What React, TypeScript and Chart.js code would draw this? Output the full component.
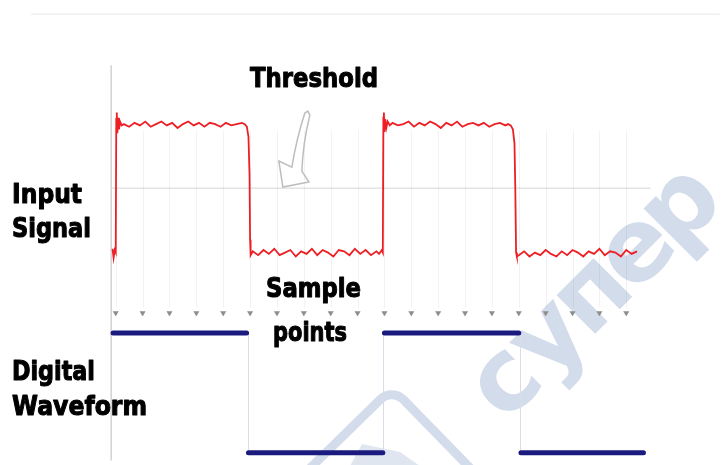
import React, { useEffect, useRef } from 'react';
import { Chart, registerables } from 'chart.js';

Chart.register(...registerables);

// ---- Data (time in sample periods, signal in normalized volts) ----
const signalTimes = [
  -0.12, -0.08, -0.04, 0, 0.02, 0.04, 0.06, 0.09, 0.12, 0.16, 0.22,
  0.3, 0.5, 0.7, 0.9, 1.1, 1.3, 1.5, 1.7, 1.9, 2.1, 2.3, 2.5, 2.7, 2.9, 3.1, 3.3, 3.5, 3.7, 3.9, 4.1, 4.3, 4.5, 4.7,
  4.8, 4.88, 4.94, 4.98, 5.0, 5.02,
  5.1, 5.3, 5.5, 5.7, 5.9, 6.1, 6.3, 6.5, 6.7, 6.9, 7.1, 7.3, 7.5, 7.7, 7.9, 8.1, 8.3, 8.5, 8.7, 8.9, 9.1, 9.3, 9.5, 9.7,
  9.8, 9.9, 9.94,
  9.96, 9.98, 10.0, 10.03, 10.07, 10.12, 10.2,
  10.3, 10.5, 10.7, 10.9, 11.1, 11.3, 11.5, 11.7, 11.9, 12.1, 12.3, 12.5, 12.7, 12.9, 13.1, 13.3, 13.5, 13.7, 13.9, 14.1, 14.3, 14.5,
  14.6, 14.7, 14.78, 14.84, 14.87, 14.9, 14.93,
  15.0, 15.2, 15.4, 15.6, 15.8, 16.0, 16.2, 16.4, 16.6, 16.8, 17.0, 17.2, 17.4, 17.6, 17.8, 18.0, 18.2, 18.4, 18.6, 18.8, 19.0, 19.2, 19.4,
];
const signalValues = [
  0.03, -0.04, 0.02, 0.0, 1.04, 1.09, 0.93, 1.05, 0.96, 1.02, 0.99,
  1.0, 0.98, 1.01, 0.99, 1.02, 0.98, 1.0, 1.02, 0.99, 1.01, 0.97, 1.0, 1.02, 0.99, 1.01, 0.98, 1.01, 1.0, 0.98, 1.01, 0.99, 1.0, 1.01,
  1.0, 0.98, 0.9, 0.6, 0.1, -0.02,
  0.01, -0.02, 0.02, -0.01, 0.03, -0.02, 0.0, 0.02, -0.03, 0.01, -0.01, 0.03, -0.02, 0.02, 0.0, -0.03, 0.02, 0.01, -0.02, 0.03, -0.01, 0.02, -0.02, 0.01,
  -0.01, 0.02, 0.0,
  1.05, 1.09, 0.94, 1.04, 0.97, 1.02, 0.99,
  1.01, 0.99, 1.0, 1.02, 0.98, 1.01, 0.99, 1.02, 1.0, 0.97, 1.01, 0.99, 1.02, 0.98, 1.0, 1.01, 0.99, 1.01, 0.98, 1.0, 1.01, 0.99,
  1.0, 0.99, 0.96, 0.85, 0.5, 0.0, -0.03,
  -0.02, 0.01, -0.03, 0.0, -0.02, 0.02, -0.01, -0.03, 0.01, -0.02, 0.02, 0.0, -0.03, 0.01, -0.01, 0.03, -0.02, 0.01, 0.0, -0.03, 0.02, -0.01, 0.01,
];

const digitalTimes = [-0.1, 4.87, 4.9, 4.94, 9.94, 9.97, 10.0, 15.0, 15.04, 15.08, 19.64];
const digitalLevels = [1, 1, null, 0, 0, null, 1, 1, null, 0, 0];
const transitionTimes = [4.92, 9.96, 15.04];

const sampleTimes = [0, 1, 2, 3, 4, 5, 6, 7, 8, 9, 10, 11, 12, 13, 14, 15, 16, 17, 18, 19];
const sampleLevel = -0.47;
const thresholdLevel = 0.5;

const labels = [
  { text: 'Threshold', x: 250, y: 87, w: 128 },
  { text: 'Input', x: 12, y: 203, w: 70 },
  { text: 'Signal', x: 12, y: 237, w: 79 },
  { text: 'Sample', x: 266, y: 297, w: 95 },
  { text: 'points', x: 273, y: 341, w: 74 },
  { text: 'Digital', x: 12, y: 380, w: 83 },
  { text: 'Waveform', x: 12, y: 415, w: 135 },
];

const watermarkLetters = ['с', 'у', 'п', 'е', 'р'];

function fitText(ctx: CanvasRenderingContext2D, text: string, x: number, y: number, width: number, size: number) {
  ctx.save();
  ctx.font = `bold ${size}px "DejaVu Sans"`;
  ctx.textBaseline = 'alphabetic';
  ctx.textAlign = 'left';
  const w = ctx.measureText(text).width;
  ctx.translate(x, y);
  ctx.scale(width / w, 1);
  ctx.fillStyle = '#000';
  ctx.strokeStyle = '#000';
  ctx.lineWidth = 1.1;
  ctx.lineJoin = 'round';
  ctx.fillText(text, 0, 0);
  ctx.strokeText(text, 0, 0);
  ctx.restore();
}

const decorPlugin = {
  id: 'decor',
  beforeDatasetsDraw(chart: any) {
    const ctx: CanvasRenderingContext2D = chart.ctx;
    const xs = chart.scales.x;
    const ys = chart.scales.y;
    const y2 = chart.scales.y2;
    ctx.save();
    // watermark
    const wm = 'rgba(150,172,205,0.42)';
    const ang = (-45 * Math.PI) / 180;
    ctx.font = 'bold 100px "DejaVu Sans"';
    ctx.fillStyle = wm;
    ctx.textAlign = 'center';
    ctx.textBaseline = 'alphabetic';
    watermarkLetters.forEach((ch, i) => {
      ctx.save();
      ctx.translate(507 + i * 62 * Math.cos(ang), 384 + i * 62 * Math.sin(ang));
      ctx.rotate(ang);
      ctx.fillText(ch, 0, 27);
      ctx.restore();
    });
    ctx.strokeStyle = wm;
    ctx.lineWidth = 9;
    ctx.beginPath();
    ctx.moveTo(296, 482);
    ctx.arcTo(392, 388, 474, 472, 16);
    ctx.lineTo(474, 472);
    ctx.stroke();
    ctx.fillStyle = 'rgba(150,172,205,0.3)';
    ctx.beginPath();
    ctx.moveTo(362, 444);
    ctx.lineTo(400, 452);
    ctx.lineTo(420, 466);
    ctx.lineTo(350, 466);
    ctx.closePath();
    ctx.fill();

    // top faint line
    ctx.strokeStyle = '#f0f0f0';
    ctx.lineWidth = 1.5;
    ctx.beginPath();
    ctx.moveTo(xs.getPixelForValue(-3.15), ys.getPixelForValue(1.855));
    ctx.lineTo(xs.right, ys.getPixelForValue(1.855));
    ctx.stroke();

    // vertical axis
    ctx.strokeStyle = '#d2d2d2';
    ctx.lineWidth = 1.5;
    ctx.beginPath();
    ctx.moveTo(xs.getPixelForValue(-0.17), ys.getPixelForValue(1.458));
    ctx.lineTo(xs.getPixelForValue(-0.17), ys.bottom);
    ctx.stroke();

    // threshold line
    ctx.strokeStyle = '#e4e4e4';
    ctx.lineWidth = 1.5;
    ctx.beginPath();
    ctx.moveTo(xs.getPixelForValue(-0.15), ys.getPixelForValue(thresholdLevel));
    ctx.lineTo(xs.getPixelForValue(19.9), ys.getPixelForValue(thresholdLevel));
    ctx.stroke();

    // faint sample grid lines
    ctx.strokeStyle = 'rgba(0,0,0,0.05)';
    ctx.lineWidth = 1;
    sampleTimes.forEach((t) => {
      const px = Math.round(xs.getPixelForValue(t)) + 0.5;
      ctx.beginPath();
      ctx.moveTo(px, ys.getPixelForValue(0.95));
      ctx.lineTo(px, ys.getPixelForValue(sampleLevel + 0.04));
      ctx.stroke();
    });

    // digital transitions
    ctx.strokeStyle = '#dcdce8';
    ctx.lineWidth = 1;
    transitionTimes.forEach((t) => {
      const px = Math.round(xs.getPixelForValue(t)) + 0.5;
      ctx.beginPath();
      ctx.moveTo(px, y2.getPixelForValue(1));
      ctx.lineTo(px, y2.getPixelForValue(0));
      ctx.stroke();
    });

    // hollow threshold arrow
    const tx = xs.getPixelForValue(6.22);
    const ty = ys.getPixelForValue(0.51);
    ctx.strokeStyle = '#bdbdbd';
    ctx.lineWidth = 1.5;
    ctx.beginPath();
    ctx.moveTo(tx, ty);
    ctx.lineTo(tx - 4, ty - 26);
    ctx.lineTo(tx + 9, ty - 20);
    ctx.quadraticCurveTo(tx + 14, ty - 50, tx + 22, ty - 74);
    ctx.lineTo(tx + 25, ty - 76);
    ctx.lineTo(tx + 27, ty - 72);
    ctx.quadraticCurveTo(tx + 20, ty - 44, tx + 19, ty - 16);
    ctx.lineTo(tx + 26, ty - 5);
    ctx.closePath();
    ctx.stroke();
    ctx.restore();
  },
  afterDraw(chart: any) {
    const ctx: CanvasRenderingContext2D = chart.ctx;
    labels.forEach((l) => fitText(ctx, l.text, l.x, l.y, l.w, 27));
  },
};

export default function App() {
  const canvasRef = useRef<HTMLCanvasElement | null>(null);

  useEffect(() => {
    if (!canvasRef.current) return;
    const chart = new Chart(canvasRef.current, {
      type: 'line',
      data: {
        datasets: [
          {
            label: 'Input Signal',
            data: signalTimes.map((t, i) => ({ x: t, y: signalValues[i] })),
            borderColor: '#ee1f24',
            borderWidth: 1.8,
            pointRadius: 0,
            tension: 0,
            yAxisID: 'y',
          },
          {
            label: 'Digital Waveform',
            data: digitalTimes.map((t, i) => ({ x: t, y: digitalLevels[i] })),
            borderColor: '#1b1b7f',
            borderWidth: 5,
            borderCapStyle: 'round',
            pointRadius: 0,
            spanGaps: false,
            yAxisID: 'y2',
          },
          {
            label: 'Sample points',
            type: 'scatter',
            data: sampleTimes.map((t) => ({ x: t, y: sampleLevel })),
            pointStyle: 'triangle',
            rotation: 180,
            pointRadius: 3,
            backgroundColor: '#8c8c8c',
            borderColor: '#8c8c8c',
            borderWidth: 0.5,
            showLine: false,
            yAxisID: 'y',
          },
        ] as any,
      },
      options: {
        animation: false,
        responsive: true,
        maintainAspectRatio: false,
        layout: { padding: 0 },
        plugins: { legend: { display: false }, tooltip: { enabled: false } },
        scales: {
          x: { type: 'linear', min: -4.14, max: 22.47, display: false },
          y: { type: 'linear', min: -1.618, max: 1.931, display: false },
          y2: { type: 'linear', min: -0.0656, max: 3.746, display: false },
        },
      },
      plugins: [decorPlugin],
    });
    return () => chart.destroy();
  }, []);

  return (
    <div style={{ position: 'absolute', left: 0, top: 0, width: 724, height: 465, background: '#fff' }}>
      <canvas ref={canvasRef} />
    </div>
  );
}
